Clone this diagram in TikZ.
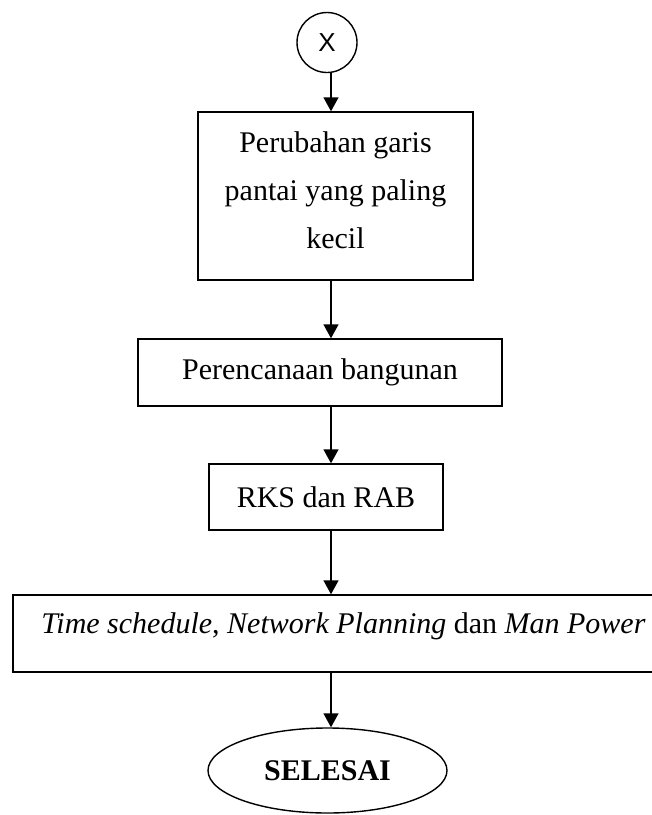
\documentclass[tikz,border=0pt]{standalone}
\usepackage{fontspec}
\setmainfont{Liberation Serif}
\newfontfamily\arialfont{Liberation Sans}
\usetikzlibrary{arrows.meta,shapes.geometric}
\begin{document}
\begin{tikzpicture}[x=1pt,y=-1pt,
  box/.style={draw,line width=1.4pt,inner sep=0pt,align=center,font=\fontsize{30}{48}\selectfont},
  flow/.style={line width=1.4pt,-{Triangle[width=15pt,length=14pt]}}]
\useasboundingbox (0,0) rectangle (652,815);
\coordinate (ax) at (331,0);
\node[circle,draw,line width=1.4pt,minimum size=60pt,inner sep=0pt,font=\arialfont\fontsize{26}{26}\selectfont] (circ) at (327,42.5) {X};
\node[box,minimum width=275pt,minimum height=168pt,text depth=12pt] (b1) at (335.5,196) {Perubahan garis\\pantai yang paling\\kecil};
\node[box,minimum width=364pt,minimum height=67pt] (b2) at (320,372.5) {Perencanaan bangunan};
\node[box,minimum width=234pt,minimum height=66pt] (b3) at (326,497) {RKS dan RAB};
\node[box,minimum width=661pt,minimum height=77pt,text height=20pt,text depth=20pt] (b4) at (343.5,633.5) {\textit{Time schedule}, \textit{Network Planning} dan \textit{Man Power}};
\node[ellipse,draw,line width=1.4pt,minimum width=239pt,minimum height=85pt,inner sep=0pt,font=\fontsize{30}{30}\selectfont\bfseries] (end) at (327.5,770.5) {SELESAI};
\draw[flow] (circ.south -| ax) -- (b1.north -| ax);
\draw[flow] (b1.south -| ax) -- (b2.north -| ax);
\draw[flow] (b2.south -| ax) -- (b3.north -| ax);
\draw[flow] (b3.south -| ax) -- (b4.north -| ax);
\draw[flow] (b4.south -| ax) -- (end.north -| ax);
\end{tikzpicture}
\end{document}
